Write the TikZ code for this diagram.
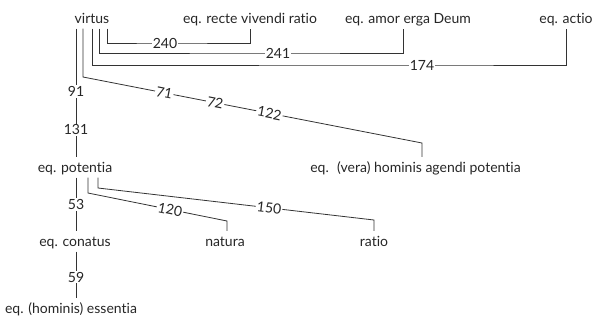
\documentclass[tikz,border=0pt]{standalone}
\usepackage{fontspec}
\setmainfont{Lato}[Ligatures={NoCommon,NoRequired,NoContextual}]
\begin{document}
\begin{tikzpicture}[x=1bp,y=-1bp,
  every node/.style={font=\fontsize{14bp}{16bp}\selectfont, text=black!85},
  term/.style={anchor=base, inner xsep=0pt, inner ysep=5.5bp, text height=9.5bp, text depth=0pt},
  num/.style={fill=white, inner sep=1.2bp},
  link/.style={draw=black!80, line width=0.8bp}]
\useasboundingbox (0,0) rectangle (594,322);

% terms
\node[term] (virtus)   at (92,23)    {virtus};
\node[term] (recte)    at (250,23)   {eq. recte vivendi ratio};
\node[term] (amor)     at (408,23)   {eq. amor erga Deum};
\node[term] (actio)    at (566,23)   {eq. actio};
\node[term] (vera)     at (415.5,172) {eq.\hspace{0.6em}(vera) hominis agendi potentia};
\node[term] (potentia) at (75,172)   {eq. potentia};
\node[term] (conatus)  at (75,246)   {eq. conatus};
\node[term] (natura)   at (225,246)  {natura};
\node[term] (ratio)    at (374,246)  {ratio};
\node[term] (essentia) at (71,313)   {eq. (hominis) essentia};

% links from virtus
\draw[link] (virtus.south -| 107,0) |- (165,43) node[num]{240} -| (recte.south);
\draw[link] (virtus.south -| 99,0) |- (278,53) node[num]{241} -| (amor.south -| 403,0);
\draw[link] (virtus.south -| 92,0) |- (422,65) node[num]{174} -| (actio.south);
\draw[link] (virtus.south -| 83,0) -- (83,77)
  -- node[num,sloped,pos=0.24]{71} node[num,sloped,pos=0.39]{72} node[num,sloped,pos=0.55]{122} (422,143)
  -- (vera.north -| 422,0);
\draw[link] (virtus.south -| 76,0) -- node[num,pos=0.49]{91} node[num,pos=0.79]{131} (potentia.north -| 76,0);

% links from eq. potentia
\draw[link] (potentia.south -| 76,0) -- node[num]{53} (conatus.north -| 76,0);
\draw[link] (potentia.south -| 88,0) -- (88,193) -- node[num,sloped,pos=0.59]{120} (227,221) -- (natura.north -| 227,0);
\draw[link] (potentia.south -| 98,0) -- (98,188) -- node[num,sloped,pos=0.62]{150} (374,220) -- (ratio.north);

% eq. conatus to essentia
\draw[link] (conatus.south -| 76,0) -- node[num,pos=0.55]{59} (essentia.north -| 76,0);
\end{tikzpicture}
\end{document}
